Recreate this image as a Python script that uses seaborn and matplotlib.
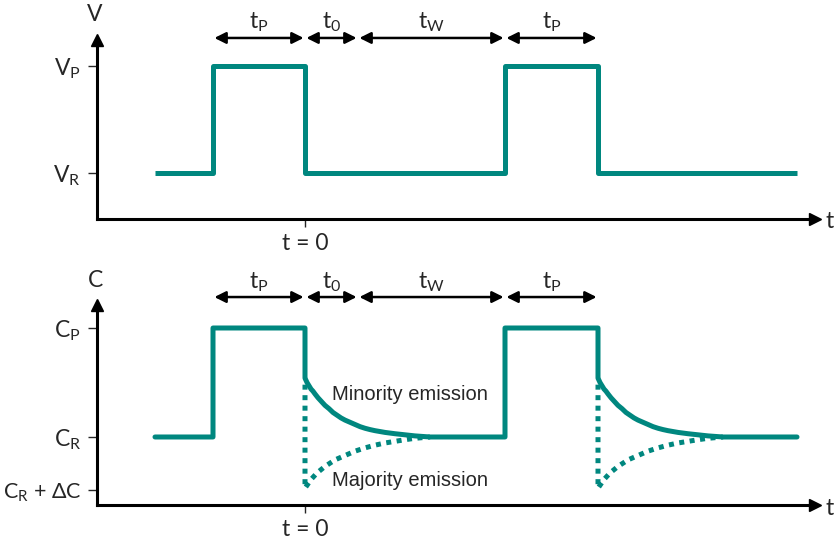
import numpy as np
import pandas as pd
import matplotlib
matplotlib.use("Agg")
import matplotlib.pyplot as plt
import seaborn as sns

# ---------------- data ----------------
# pulse timing (t = 0 at end of first filling pulse)
t_start = -150
t_pulse1 = -92
t_zero = 0
t_t0_end = 53
t_pulse2 = 200
t_pulse2_end = 293
t_end = 492

# voltage waveform (steps)
v_time = [t_start, t_pulse1, t_zero, t_pulse2, t_pulse2_end, t_end]
v_level = [0, 1, 0, 1, 0, 0]

# capacitance transient shapes, relative to pulse end
decay_t = [0, 1, 2, 3, 4, 6, 8, 10, 13, 16, 20, 24, 28, 32, 36, 40, 45, 50, 55,
           60, 65, 70, 75, 80, 90, 100, 110, 125]
minority = [0.54, 0.52, 0.50, 0.485, 0.47, 0.44, 0.42, 0.395, 0.36, 0.33, 0.29,
            0.26, 0.225, 0.20, 0.175, 0.155, 0.135, 0.115, 0.095, 0.08, 0.068,
            0.058, 0.05, 0.042, 0.03, 0.02, 0.01, 0.0]
major_t = [0, 3, 6, 9, 12, 16, 20, 25, 30, 35, 40, 45, 50, 55, 60, 70, 80, 90,
           100, 110, 125]
majority = [-0.47, -0.43, -0.39, -0.36, -0.33, -0.30, -0.27, -0.24, -0.21,
            -0.19, -0.17, -0.15, -0.13, -0.115, -0.10, -0.075, -0.055, -0.04,
            -0.025, -0.012, 0.0]
majority_top = 0.48

interval_bounds = [t_pulse1, t_zero, t_t0_end, t_pulse2, t_pulse2_end]
interval_labels = [r"$\mathrm{t_P}$", r"$\mathrm{t_0}$", r"$\mathrm{t_W}$", r"$\mathrm{t_P}$"]

v_ticks = [0, 1]
v_ticklabels = [r"$\mathrm{V_R}$", r"$\mathrm{V_P}$"]
c_ticks = [-0.486, 0, 1]
c_ticklabels = [r"$\mathrm{C_R}$ + ΔC", r"$\mathrm{C_R}$", r"$\mathrm{C_P}$"]

# ---------------- style ----------------
sns.set_style("white")
plt.rcParams["font.family"] = ["Lato", "DejaVu Sans"]
plt.rcParams["mathtext.fontset"] = "custom"
plt.rcParams["mathtext.rm"] = "Lato"
plt.rcParams["mathtext.it"] = "Lato:italic"
plt.rcParams["mathtext.bf"] = "Lato:bold"

TEAL = "#00877F"
LW = 3.6
FS = 16.5

fig = plt.figure(figsize=(8.35, 5.45), dpi=100)
ax1 = fig.add_axes([97 / 835, 1 - 219 / 545, (815 - 97) / 835, (219 - 40) / 545])
ax2 = fig.add_axes([97 / 835, 1 - 505 / 545, (815 - 97) / 835, (505 - 305) / 545])

# build capacitance trace from the pieces
def c_trace(t0):
    return [t0 + t for t in decay_t], minority

c_x = [t_start, t_pulse1, t_pulse1, t_zero]
c_y = [0, 0, 1, 1]
dx, dy = c_trace(t_zero)
c_x += dx + [t_pulse2, t_pulse2, t_pulse2_end]
c_y += dy + [0, 1, 1]
dx, dy = c_trace(t_pulse2_end)
c_x += dx + [t_end]
c_y += dy + [0]

# ---------------- top panel ----------------
sns.lineplot(x=v_time, y=v_level, ax=ax1, color=TEAL, lw=LW,
             drawstyle="steps-post", estimator=None, sort=False)
for ln in ax1.lines:
    ln.set_solid_joinstyle("round")
    ln.set_solid_capstyle("butt")

# ---------------- bottom panel ----------------
for t0 in (t_zero, t_pulse2_end):
    mx = [t0] + [t0 + t for t in major_t]
    my = [majority_top] + majority
    sns.lineplot(x=mx, y=my, ax=ax2, color=TEAL, lw=LW, estimator=None, sort=False,
                 linestyle=(0, (1.0, 1.1)))
sns.lineplot(x=c_x, y=c_y, ax=ax2, color=TEAL, lw=LW, estimator=None, sort=False)
for ln in ax2.lines:
    ln.set_solid_joinstyle("round")
    ln.set_dash_capstyle("butt")

ax2.text(27, 0.39, "Minority emission", fontsize=14.5, va="center", ha="left",
         family=["Liberation Sans", "DejaVu Sans"])
ax2.text(27, -0.40, "Majority emission", fontsize=14.5, va="center", ha="left",
         family=["Liberation Sans", "DejaVu Sans"])

# ---------------- axes decoration ----------------
panels = [
    (ax1, (-0.43, 1.243), v_ticks, v_ticklabels, "V", 1.486, 1.262, 1.41, -0.455),
    (ax2, (-0.624, 1.211), c_ticks, c_ticklabels, "C", 1.44, 1.284, 1.42, -0.66),
]
for ax, ylim, yt, ytl, ylab, ylab_y, arr_y, lab_y, t_y in panels:
    ax.set_xlim(-208, 510)
    ax.set_ylim(*ylim)
    for s in ("top", "right"):
        ax.spines[s].set_visible(False)
    for s in ("left", "bottom"):
        ax.spines[s].set_linewidth(2.2)
        ax.spines[s].set_color("black")
    ax.set_yticks(yt)
    ax.set_yticklabels(ytl, fontsize=FS)
    ax.set_xticks([0])
    ax.set_xticklabels(["t = 0"], fontsize=FS)
    ax.tick_params(axis="y", direction="out", length=6.5, width=1, left=True, pad=5)
    ax.tick_params(axis="x", direction="out", length=6, width=1, bottom=True, pad=4)
    ax.set_xlabel("")
    ax.set_ylabel("")
    # arrowheads on axes
    ax.plot(1, 0, ">", color="black", ms=9, transform=ax.transAxes, clip_on=False)
    ax.plot(0, 1, "^", color="black", ms=9, transform=ax.transAxes, clip_on=False)
    ax.text(-210, ylab_y, ylab, fontsize=FS, ha="center", va="center")
    ax.text(525, t_y, "t", fontsize=FS, ha="center", va="center")
    # interval arrows
    for a, b, lab in zip(interval_bounds[:-1], interval_bounds[1:], interval_labels):
        ax.annotate("", xy=(b, arr_y), xytext=(a, arr_y), xycoords="data",
                    annotation_clip=False,
                    arrowprops=dict(arrowstyle="<|-|>", color="black", lw=1.8,
                                    mutation_scale=17, shrinkA=1, shrinkB=1))
        ax.text((a + b) / 2, lab_y, lab, fontsize=FS, ha="center", va="center")

# the long bottom label is narrower in the reference font
ax2.get_yticklabels()[0].set_fontsize(15.5)

fig.savefig("out.png", dpi=100)
